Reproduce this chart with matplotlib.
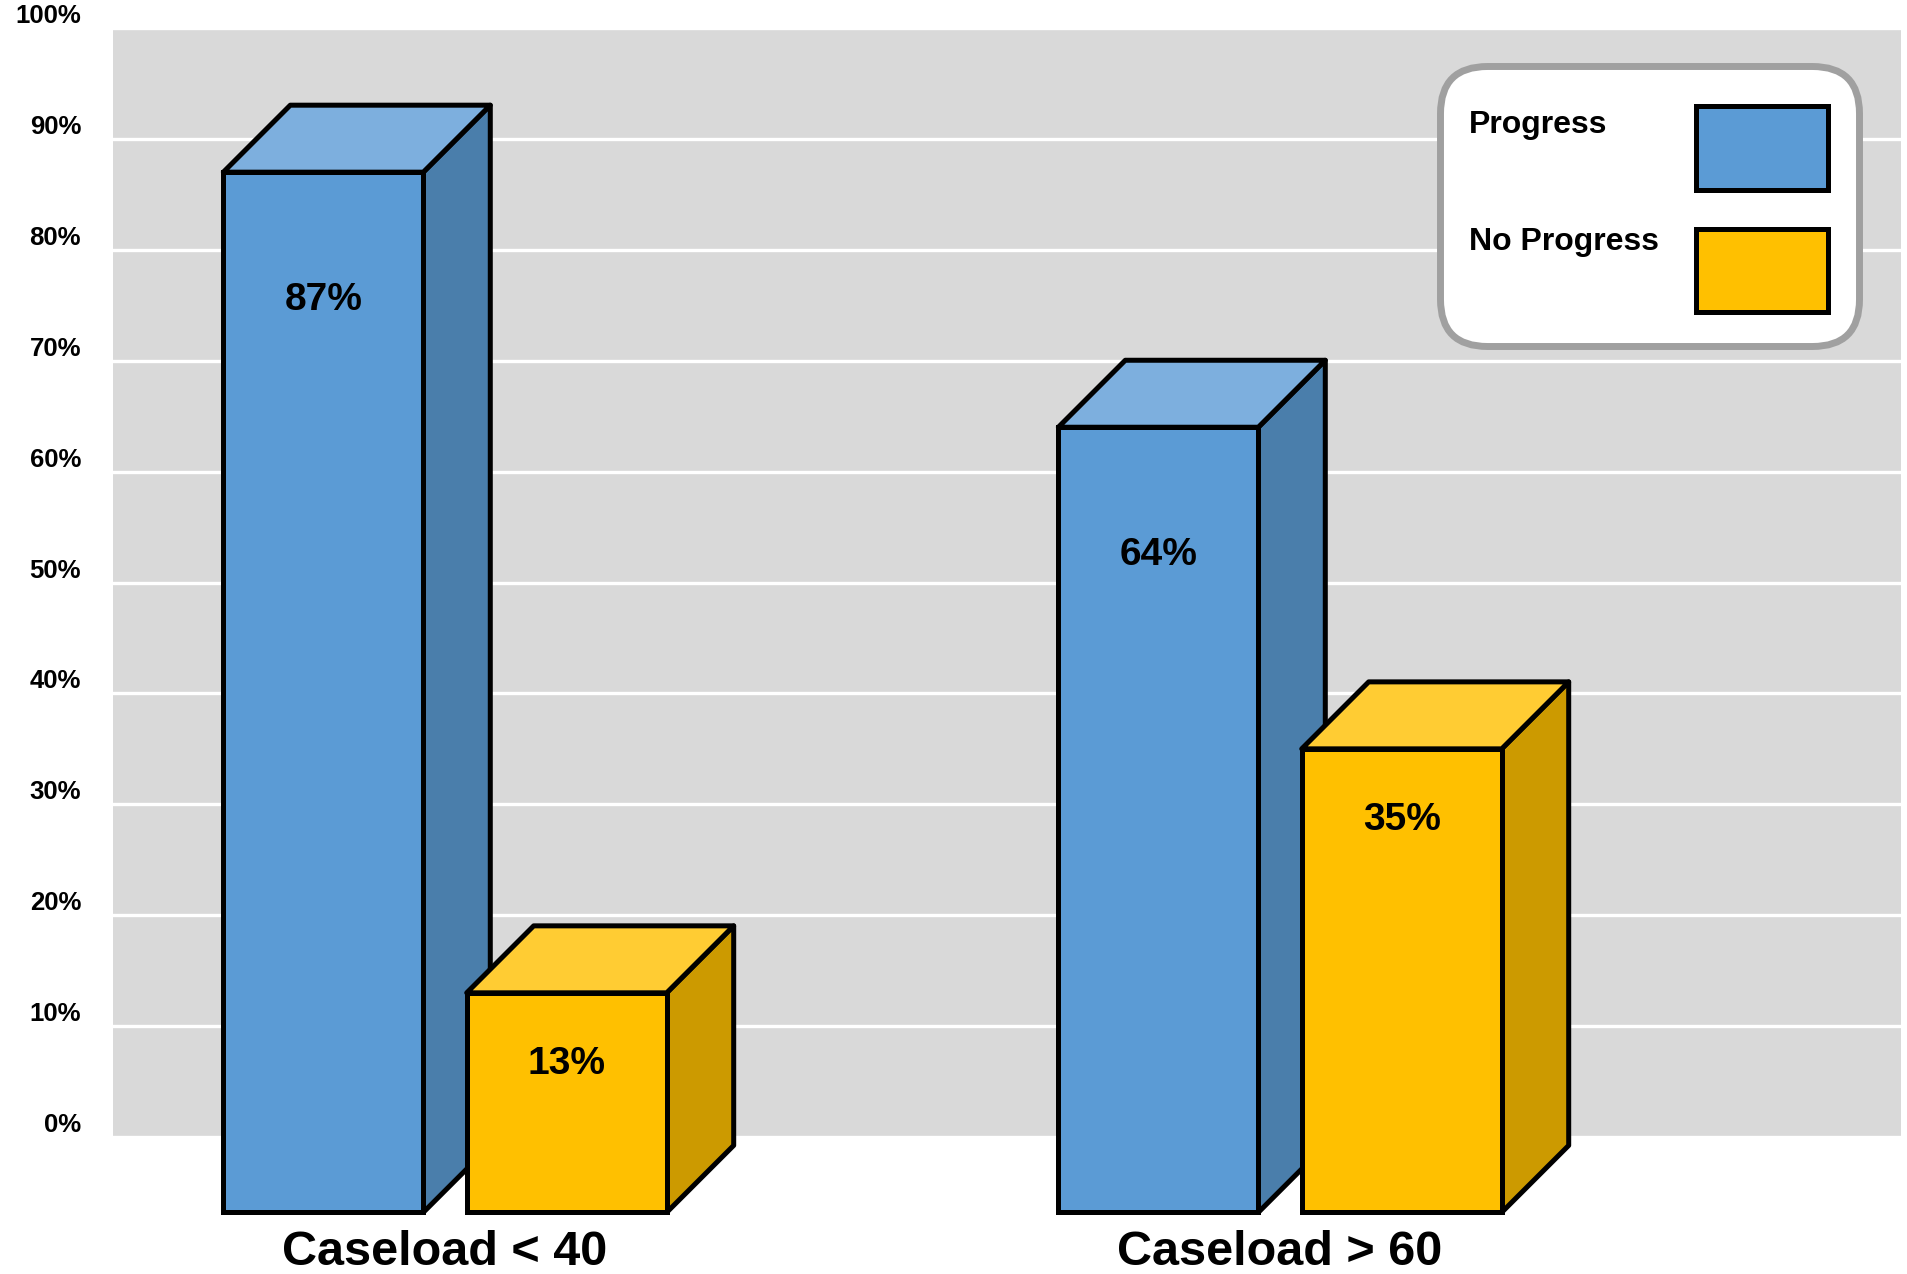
import matplotlib
matplotlib.use("Agg")
import matplotlib.pyplot as plt
from matplotlib.patches import Polygon, FancyBboxPatch, Rectangle
from matplotlib.transforms import IdentityTransform

# ---- data ----
categories = ["Caseload < 40", "Caseload > 60"]
series_names = ["Progress", "No Progress"]
progress = [87, 64]
no_progress = [13, 35]
ytick_values = [0, 10, 20, 30, 40, 50, 60, 70, 80, 90, 100]
ytick_labels = ["0%", "10%", "20%", "30%", "40%", "50%", "60%", "70%", "80%", "90%", "100%"]

# ---- style ----
plt.rcParams['font.family'] = ['Liberation Sans', 'DejaVu Sans']
W, H = 1908, 1274
fig = plt.figure(figsize=(W / 100, H / 100), dpi=100)
ax = fig.add_axes([113 / W, 1 - 1137 / H, 1788 / W, 1109 / H])
ax.set_xlim(-0.3976, 1.7437)
ax.set_ylim(0, 100)
ax.set_facecolor('#D9D9D9')
for s in ax.spines.values():
    s.set_visible(False)
ax.set_axisbelow(True)
ax.yaxis.grid(True, color='white', linewidth=2.4)
ax.xaxis.grid(False)

ax.set_yticks(ytick_values, ytick_labels)
ax.tick_params(axis='y', length=0, pad=23, labelsize=18.5)
for lbl in ax.get_yticklabels():
    lbl.set_fontweight('bold')
    lbl.set_va('bottom')

ax.set_xticks(range(len(categories)), categories)
ax.tick_params(axis='x', length=0, pad=92, labelsize=35)
for lbl in ax.get_xticklabels():
    lbl.set_fontweight('bold')
    lbl.set_va('baseline')

series = [progress, no_progress]
colors = [
    dict(front='#5B9BD5', top='#7DAFDE', side='#4A7EAB', label_drop=11.5),
    dict(front='#FFC000', top='#FFCC33', side='#CC9A00', label_drop=6.4),
]
w = 0.2395
half_gap = 0.026
dx = 67 / 835
dy = 6.04
base = -6.8
lw = 3.6

z = 3
for ci in range(len(categories)):
    for si, vals in enumerate(series):
        val = vals[ci]
        st = colors[si]
        x0 = ci - half_gap - w if si == 0 else ci + half_gap
        x1 = x0 + w
        side = Polygon([(x1, base), (x1, val), (x1 + dx, val + dy), (x1 + dx, base + dy)],
                       closed=True, fc=st['side'], ec='black', lw=lw, clip_on=False,
                       zorder=z, joinstyle='round')
        top = Polygon([(x0, val), (x0 + dx, val + dy), (x1 + dx, val + dy), (x1, val)],
                      closed=True, fc=st['top'], ec='black', lw=lw, clip_on=False,
                      zorder=z + 0.1, joinstyle='round')
        ax.add_patch(side)
        ax.add_patch(top)
        bars = ax.bar([x0], [val - base], width=w, bottom=base, align='edge',
                      color=st['front'], edgecolor='black', linewidth=lw,
                      zorder=z + 0.2, clip_on=False)
        bars[0].set_joinstyle('miter')
        ax.text(x0 + w / 2, val - st['label_drop'], f"{val}%", ha='center', va='center',
                fontsize=28, fontweight='bold', color='black', zorder=z + 0.3)
        z += 1

# ---- legend (drawn in pixel coordinates) ----
T = IdentityTransform()
box = FancyBboxPatch((1440.5, H - 346.5), 419, 280,
                     boxstyle="round,pad=0,rounding_size=47",
                     fc='white', ec='#A0A0A0', lw=5, transform=T, zorder=10)
fig.add_artist(box)
legend_rows = [(133, 105.5, 189.5), (250, 228.5, 311.5)]
for (base_y, top_y, bot_y), name, st in zip(legend_rows, series_names, colors):
    r = Rectangle((1695.5, H - bot_y), 132, bot_y - top_y, fc=st['front'], ec='black',
                  lw=lw, transform=T, zorder=11)
    fig.add_artist(r)
    fig.text(1469, H - base_y, name, transform=T, fontsize=23, fontweight='bold',
             va='baseline', ha='left', zorder=12)

fig.savefig('out.png', dpi=100)
